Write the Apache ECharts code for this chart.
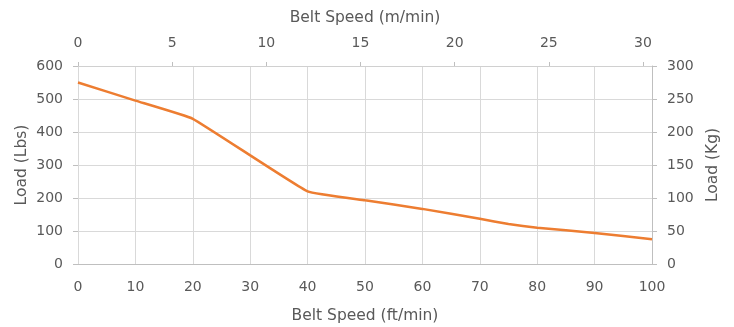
<!DOCTYPE html>
<html><head><meta charset="utf-8">
<script src="https://cdn.jsdelivr.net/npm/echarts@6/dist/echarts.min.js"></script>
<style>html,body{margin:0;padding:0;background:#fff}#c{width:734px;height:327px}</style>
</head><body><div id="c"></div>
<script>
const speedFt = [0, 10, 20, 40, 50, 60, 70, 75, 80, 90, 100];
const loadLbs = [550, 495, 440, 220, 193, 167, 137, 121, 110, 94, 75];
const bottomTitle = 'Belt Speed (ft/min)';
const topTitle = 'Belt Speed (m/min)';
const leftTitle = 'Load (Lbs)';
const rightTitle = 'Load (Kg)';

const txt = '#595959';
const grid = '#d9d9d9';
const font = 'DejaVu Sans';
const chart = echarts.init(document.getElementById('c'));
chart.setOption({
  animation: false,
  textStyle: {fontFamily: font},
  grid: {left: 78, right: 82, top: 66, bottom: 63, containLabel: false, outerBoundsMode: 'none'},
  xAxis: [{
    type: 'value', position: 'bottom', min: 0, max: 100, interval: 10,
    name: bottomTitle, nameLocation: 'middle', nameGap: 44, nameMoveOverlap: false,
    nameTextStyle: {color: txt, fontSize: 15.5, fontFamily: font},
    axisLine: {show: true, onZero: false, lineStyle: {color: '#bfbfbf'}},
    axisTick: {show: false},
    axisLabel: {color: txt, fontSize: 14, margin: 16, fontFamily: font},
    splitLine: {show: true, lineStyle: {color: grid, width: 1}}
  }, {
    type: 'value', position: 'top', min: 0, max: 30.48, interval: 5,
    name: topTitle, nameLocation: 'middle', nameGap: 40, nameMoveOverlap: false,
    nameTextStyle: {color: txt, fontSize: 15.5, fontFamily: font},
    axisLine: {show: true, onZero: false, lineStyle: {color: '#d0d0d0'}},
    axisTick: {show: true, length: 4, lineStyle: {color: '#bfbfbf'}},
    axisLabel: {color: txt, fontSize: 14, margin: 16, fontFamily: font, showMaxLabel: false,
      formatter: v => (Math.abs(v % 5) < 1e-6 ? String(v) : '')},
    splitLine: {show: false}
  }],
  yAxis: [{
    type: 'value', position: 'left', min: 0, max: 600, interval: 100,
    name: leftTitle, nameLocation: 'middle', nameGap: 48, nameMoveOverlap: false,
    nameTextStyle: {color: txt, fontSize: 15.5, fontFamily: font},
    axisLine: {show: false, onZero: false},
    axisTick: {show: true, length: 5, lineStyle: {color: '#bfbfbf'}},
    axisLabel: {color: txt, fontSize: 14, margin: 15, fontFamily: font},
    splitLine: {show: true, lineStyle: {color: grid, width: 1}}
  }, {
    type: 'value', position: 'right', min: 0, max: 300, interval: 50,
    name: rightTitle, nameLocation: 'middle', nameGap: 53, nameMoveOverlap: false,
    nameTextStyle: {color: txt, fontSize: 15.5, fontFamily: font},
    axisLine: {show: true, onZero: false, lineStyle: {color: '#bfbfbf'}},
    axisTick: {show: true, length: 5, lineStyle: {color: '#bfbfbf'}},
    axisLabel: {color: txt, fontSize: 14, margin: 15, fontFamily: font},
    splitLine: {show: false}
  }],
  series: [{
    type: 'line', xAxisIndex: 0, yAxisIndex: 0,
    data: speedFt.map((x, i) => [x, loadLbs[i]]),
    showSymbol: false, symbol: 'none',
    lineStyle: {color: '#ED7D31', width: 2.5},
    smooth: 0.1
  }]
});
</script></body></html>
